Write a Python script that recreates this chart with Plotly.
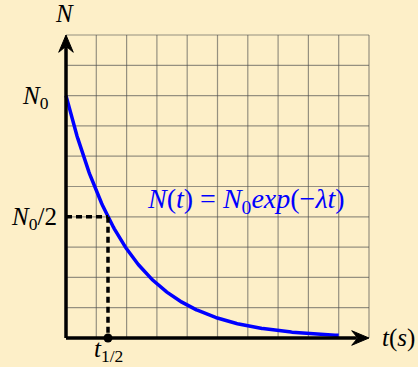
import numpy as np
import plotly.graph_objects as go

# Radioactive decay N(t) = N0 * exp(-lambda * t)
N0 = 8.0
lam = 0.5
t_end = 9.0
grid_max = 10
t_half = np.log(2) / lam

t = np.linspace(0, t_end, 300)
N = N0 * np.exp(-lam * t)

BG = "#FDEFC8"
FONT = "Liberation Serif"

fig = go.Figure()

# decay curve
fig.add_trace(go.Scatter(x=t, y=N, mode="lines",
                         line=dict(color="#0000FF", width=3.5),
                         hoverinfo="skip", showlegend=False))

# half-life marker
fig.add_trace(go.Scatter(x=[t_half], y=[0], mode="markers",
                         marker=dict(color="black", size=9),
                         hoverinfo="skip", showlegend=False))

shapes = []
# square grid 0..10 in both directions
for k in range(grid_max + 1):
    shapes.append(dict(type="line", x0=k, x1=k, y0=0, y1=grid_max,
                       line=dict(color="rgba(80,80,80,0.6)", width=1.2), layer="below"))
    shapes.append(dict(type="line", x0=0, x1=grid_max, y0=k, y1=k,
                       line=dict(color="rgba(80,80,80,0.6)", width=1.2), layer="below"))

# dashed guides for the half-life
shapes.append(dict(type="line", x0=0, x1=t_half, y0=N0 / 2, y1=N0 / 2,
                   line=dict(color="black", width=3.5, dash="6px,4px")))
shapes.append(dict(type="line", x0=t_half, x1=t_half, y0=N0 / 2, y1=0,
                   line=dict(color="black", width=3.5, dash="6px,4px")))

# axes
ax_w = 3.5
shapes.append(dict(type="line", x0=0, x1=grid_max - 0.4, y0=0, y1=0,
                   line=dict(color="black", width=ax_w)))
shapes.append(dict(type="line", x0=0, x1=0, y0=0, y1=grid_max - 0.4,
                   line=dict(color="black", width=ax_w)))

# arrow heads (stealth style), sized in axis units
L, Wd, notch = 0.57, 0.24, 0.2
tip = grid_max
shapes.append(dict(type="path",
                   path=f"M {tip},0 L {tip-L},{Wd} L {tip-L+notch},0 L {tip-L},{-Wd} Z",
                   fillcolor="black", line=dict(color="black", width=1)))
shapes.append(dict(type="path",
                   path=f"M 0,{tip} L {Wd},{tip-L} L 0,{tip-L+notch} L {-Wd},{tip-L} Z",
                   fillcolor="black", line=dict(color="black", width=1)))

ann = []
def label(x, y, text, size=25, color="black"):
    ann.append(dict(x=x, y=y, text=text, showarrow=False, xanchor="center", yanchor="middle",
                    font=dict(family=FONT, size=size, color=color)))

label(-0.05, 10.72, "<i>N</i>")
label(-1.0, 7.95, "<i>N</i><sub>0</sub>")
label(-1.05, 3.95, "<i>N</i><sub>0</sub>/2")
label(t_half, -0.42, "<i>t</i><sub>1/2</sub>")
label(10.97, 0.0, "<i>t</i>(<i>s</i>)")
label(5.95, 4.55, "<i>N</i>(<i>t</i>) = <i>N</i><sub>0</sub><i>exp</i>(−<i>λt</i>)",
      size=28, color="#0000FF")

px = 30.3
fig.update_layout(
    width=418, height=367,
    margin=dict(l=0, r=0, t=0, b=0),
    paper_bgcolor=BG, plot_bgcolor=BG,
    font=dict(family=FONT),
    xaxis=dict(range=[-66 / px, (418 - 66) / px], visible=False, fixedrange=True),
    yaxis=dict(range=[-(367 - 338) / px, 338 / px], visible=False, fixedrange=True),
    shapes=shapes, annotations=ann,
)

fig.write_html("out.html")
